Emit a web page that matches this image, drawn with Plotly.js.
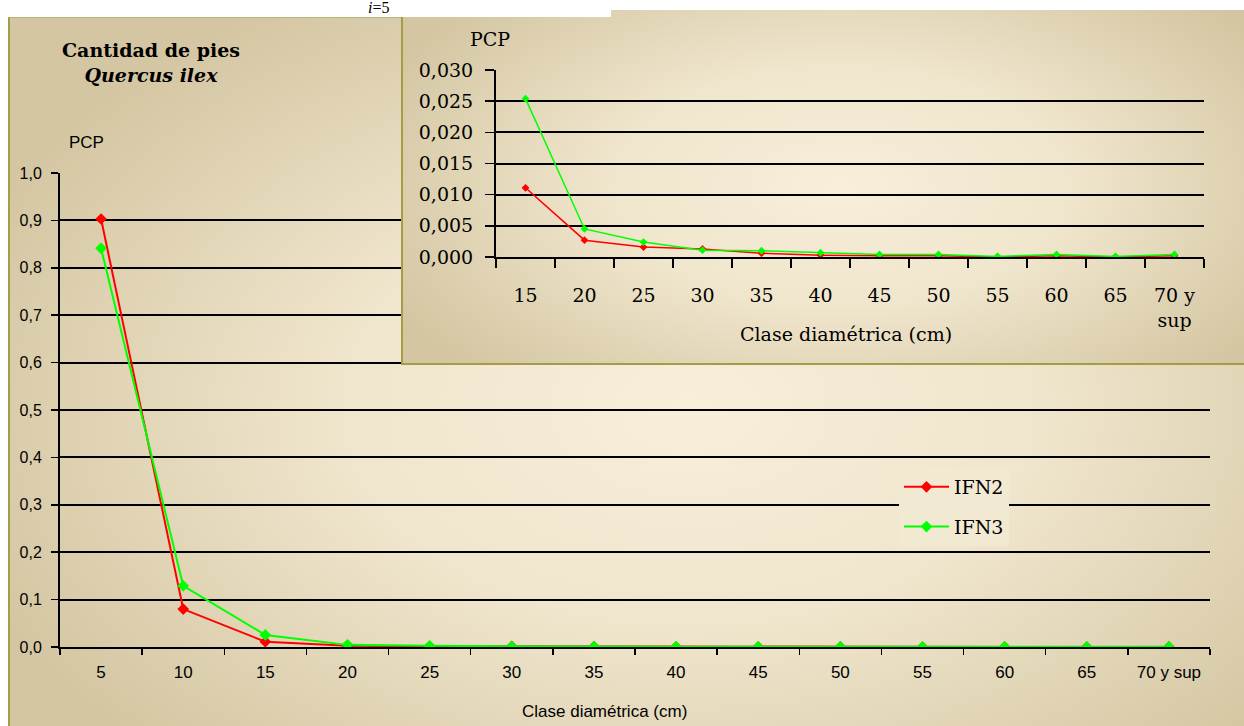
<!DOCTYPE html>
<html><head><meta charset="utf-8">
<script src="https://cdn.plot.ly/plotly-3.0.1.min.js"></script>
<style>
html,body{margin:0;padding:0;background:#fff;width:1244px;height:726px;overflow:hidden;position:relative}
#panel{position:absolute;left:8px;top:17px;width:1236px;height:709px;box-sizing:border-box;border-left:2px solid #A39E45;border-top:1px solid #B9B27A;background:radial-gradient(ellipse 62% 68% at 55% 55%, #F8EEDA 0%, #F0E6CD 45%, #D4C6A2 100%);z-index:0}
#main{position:absolute;left:0;top:0;width:1244px;height:726px;z-index:1}
#insetWrap{position:absolute;left:401px;top:10px;width:843px;height:355px;box-sizing:border-box;border-left:2px solid #A39E45;border-bottom:2px solid #A39E45;background:radial-gradient(ellipse 60% 75% at 52% 50%, #F8EEDA 0%, #F0E6CD 45%, #D4C6A2 100%);z-index:2}
#inset{position:absolute;left:-2px;top:0;width:843px;height:355px}
#cover{position:absolute;left:401px;top:0;width:210px;height:17px;background:#fff;z-index:3}
</style>
</head>
<body>
<div id="panel"></div>
<div id="main"></div>
<div id="insetWrap"><div id="inset"></div></div>
<div id="cover"></div>
<script>
// Data
const categories = ['5','10','15','20','25','30','35','40','45','50','55','60','65','70 y sup'];
const insetCategories = ['15','20','25','30','35','40','45','50','55','60','65','70 y<br>sup'];
const ifn2 = [0.903, 0.080, 0.0111, 0.0027, 0.0016, 0.0013, 0.0006, 0.0003, 0.0002, 0.0002, 0.0000, 0.0002, 0.0000, 0.0002];
const ifn3 = [0.841, 0.129, 0.0254, 0.0045, 0.0024, 0.0011, 0.0010, 0.0007, 0.0004, 0.0004, 0.0001, 0.0004, 0.0001, 0.0004];
const seriesNames = ['IFN2', 'IFN3'];
const yTickMain = [0,0.1,0.2,0.3,0.4,0.5,0.6,0.7,0.8,0.9,1.0];
const yTickInset = [0,0.005,0.010,0.015,0.020,0.025,0.030];

const RED = '#FF0000', GREEN = '#00FF00';
const sans = 'Liberation Sans, Arial, sans-serif';
const serif = 'DejaVu Serif, serif';

const mainTraces = [
  {x: categories, y: ifn2, name: seriesNames[0], type: 'scatter', mode: 'lines+markers', legendgroup: 'a',
   line: {color: RED, width: 2}, marker: {symbol: 'diamond', size: 9, color: RED}},
  {x: categories, y: ifn3, name: seriesNames[1], type: 'scatter', mode: 'lines+markers', legendgroup: 'b',
   line: {color: GREEN, width: 2}, marker: {symbol: 'diamond', size: 9, color: GREEN}}
];

const mainLayout = {
  width: 1244, height: 726,
  margin: {l: 60, r: 34, t: 173, b: 79, pad: 0},
  paper_bgcolor: 'rgba(0,0,0,0)', plot_bgcolor: 'rgba(0,0,0,0)',
  separators: ',.',
  hovermode: false,
  title: {text: '<b>Cantidad de pies</b><br><b><i>Quercus ilex</i></b>',
          font: {family: serif, size: 19, color: '#000'},
          x: 151/1244, xref: 'container', xanchor: 'center', y: 1 - 57/726, yref: 'container', yanchor: 'middle'},
  xaxis: {type: 'category', range: [-0.5, 13.5], tickson: 'boundaries', ticks: 'outside', ticklen: 6, tickwidth: 1.5, tickcolor: '#000',
          showline: true, linecolor: '#000', linewidth: 2, showgrid: false, zeroline: false,
          tickfont: {family: sans, size: 17, color: '#000'}, ticklabelstandoff: 9, fixedrange: true},
  yaxis: {range: [0, 1], tickvals: yTickMain, tickformat: '.1f', ticks: 'outside', ticklen: 7, tickwidth: 1.5, tickcolor: '#000',
          showline: true, linecolor: '#000', linewidth: 2, showgrid: true, gridcolor: '#000', gridwidth: 2, zeroline: false,
          tickfont: {family: sans, size: 16, color: '#000'}, ticklabelstandoff: 6, fixedrange: true},
  showlegend: true,
  legend: {x: (899-60)/1150, xanchor: 'left', y: (647-468)/474, yanchor: 'top', bgcolor: '#F2E9D3', borderwidth: 0,
           itemwidth: 45,
           font: {family: serif, size: 19, color: '#000'}, traceorder: 'grouped', tracegroupgap: 12},
  annotations: [
    {text: 'PCP', xref: 'paper', yref: 'paper', x: (86-60)/1150, y: (647-142)/474, xanchor: 'center', yanchor: 'middle',
     showarrow: false, font: {family: sans, size: 17, color: '#000'}},
    {text: 'Clase diamétrica (cm)', xref: 'paper', yref: 'paper', x: (604-60)/1150, y: (647-711)/474, xanchor: 'center', yanchor: 'middle',
     showarrow: false, font: {family: sans, size: 17, color: '#000'}},
    {text: '<i>i</i>=5', xref: 'paper', yref: 'paper', x: (378-60)/1150, y: (647-7)/474, xanchor: 'center', yanchor: 'middle',
     showarrow: false, font: {family: 'Liberation Serif, serif', size: 16, color: '#000'}}
  ]
};

Plotly.newPlot('main', mainTraces, mainLayout, {displayModeBar: false, staticPlot: true});

const insetTraces = [
  {x: insetCategories, y: ifn2.slice(2), name: seriesNames[0], type: 'scatter', mode: 'lines+markers', showlegend: false,
   line: {color: RED, width: 1.5}, marker: {symbol: 'diamond', size: 6, color: RED}},
  {x: insetCategories, y: ifn3.slice(2), name: seriesNames[1], type: 'scatter', mode: 'lines+markers', showlegend: false,
   line: {color: GREEN, width: 1.5}, marker: {symbol: 'diamond', size: 6, color: GREEN}}
];

const insetLayout = {
  width: 843, height: 355,
  margin: {l: 95, r: 40, t: 60, b: 108, pad: 0},
  paper_bgcolor: 'rgba(0,0,0,0)', plot_bgcolor: 'rgba(0,0,0,0)',
  separators: ',.',
  hovermode: false, showlegend: false,
  xaxis: {type: 'category', range: [-0.5, 11.5], tickson: 'boundaries', ticks: 'outside', ticklen: 9, tickwidth: 1.5, tickcolor: '#000',
          showline: true, linecolor: '#000', linewidth: 2, showgrid: false, zeroline: false,
          tickfont: {family: serif, size: 19, color: '#000'}, ticklabelstandoff: 20, fixedrange: true},
  yaxis: {range: [0, 0.030], tickvals: yTickInset, tickformat: '.3f', ticks: 'outside', ticklen: 9, tickwidth: 1.5, tickcolor: '#000',
          showline: true, linecolor: '#000', linewidth: 2, showgrid: true, gridcolor: '#000', gridwidth: 2, zeroline: false,
          tickfont: {family: serif, size: 19, color: '#000'}, ticklabelstandoff: 8, fixedrange: true},
  annotations: [
    {text: 'PCP', xref: 'paper', yref: 'paper', x: (89-95)/708, y: (246.5-28)/187, xanchor: 'center', yanchor: 'middle',
     showarrow: false, font: {family: serif, size: 19, color: '#000'}},
    {text: 'Clase diamétrica (cm)', xref: 'paper', yref: 'paper', x: (445-95)/708, y: (246.5-323)/187, xanchor: 'center', yanchor: 'middle',
     showarrow: false, font: {family: serif, size: 19, color: '#000'}}
  ]
};

Plotly.newPlot('inset', insetTraces, insetLayout, {displayModeBar: false, staticPlot: true});
</script>
</body></html>
